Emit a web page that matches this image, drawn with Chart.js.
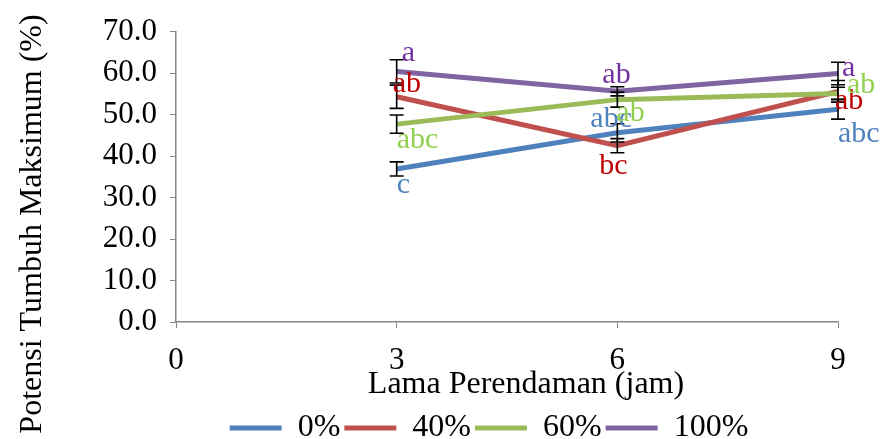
<!DOCTYPE html>
<html>
<head>
<meta charset="utf-8">
<script src="https://cdn.jsdelivr.net/npm/chart.js@4.4.1/dist/chart.umd.min.js"></script>
<style>
  body { margin: 0; background: #fff; }
  canvas { display: block; }
</style>
</head>
<body>
<canvas id="chart" width="881" height="439"></canvas>
<script>
// data
let hours = [3, 6, 9];
let seriesNames = ["0%", "40%", "60%", "100%"];

let val0 = [36.9, 45.6, 51.3];
let val40 = [54.3, 42.5, 55.6];
let val60 = [47.7, 53.6, 55.1];
let val100 = [60.4, 55.6, 59.9];

let err0 = [1.7, 2.2, 2.4];
let err40 = [2.8, 1.7, 2.6];
let err60 = [2.2, 1.8, 1.5];
let err100 = [2.8, 1.1, 2.7];

let notes0 = ["c", "abc", "abc"];
let notes40 = ["ab", "bc", "ab"];
let notes60 = ["abc", "ab", "ab"];
let notes100 = ["a", "ab", "a"];

let yTicks = [0, 10, 20, 30, 40, 50, 60, 70];

const FONT = "'Liberation Serif', 'Times New Roman', serif";
const lineColors = ["#4F81BD", "#C0504D", "#9BBB59", "#8064A2"];
const noteColors = ["#4F81BD", "#C00000", "#92D050", "#7030A0"];

let values = [val0, val40, val60, val100];
let errors = [err0, err40, err60, err100];
let notes = [notes0, notes40, notes60, notes100];

// where each letter sits relative to its point (text left, baseline)
const noteOffsets = [
  [[0, 24], [-27, -6], [0, 33]],
  [[-4, -5], [-18, 28], [-3, 18]],
  [[0, 24], [-1, 21], [9, 0]],
  [[5, -10], [-15, -8], [4, 2]]
];

let datasets = seriesNames.map((name, s) => ({
  label: name,
  data: hours.map((h, i) => ({ x: h, y: values[s][i] })),
  borderColor: lineColors[s],
  backgroundColor: lineColors[s],
  borderWidth: 5,
  pointRadius: 0,
  tension: 0,
  order: 4 - s
}));

// error bars, black caps
const errorBars = {
  id: "errorBars",
  afterDatasetsDraw(chart) {
    let ctx = chart.ctx;
    let xs = chart.scales.x, ys = chart.scales.y;
    ctx.save();
    ctx.strokeStyle = "#000";
    ctx.lineWidth = 1.6;
    values.forEach((vals, s) => {
      vals.forEach((v, i) => {
        let px = xs.getPixelForValue(hours[i]);
        let top = ys.getPixelForValue(v + errors[s][i]);
        let bot = ys.getPixelForValue(v - errors[s][i]);
        ctx.beginPath();
        ctx.moveTo(px, top); ctx.lineTo(px, bot);
        ctx.moveTo(px - 7, top); ctx.lineTo(px + 7, top);
        ctx.moveTo(px - 7, bot); ctx.lineTo(px + 7, bot);
        ctx.stroke();
      });
    });
    ctx.restore();
  }
};

// significance letters + axis titles
const textLayer = {
  id: "textLayer",
  afterDraw(chart) {
    let ctx = chart.ctx;
    let xs = chart.scales.x, ys = chart.scales.y;
    ctx.save();
    ctx.font = "30px " + FONT;
    ctx.textAlign = "left";
    ctx.textBaseline = "alphabetic";
    notes.forEach((list, s) => {
      ctx.fillStyle = noteColors[s];
      list.forEach((txt, i) => {
        let px = xs.getPixelForValue(hours[i]);
        let py = ys.getPixelForValue(values[s][i]);
        ctx.fillText(txt, px + noteOffsets[s][i][0], py + noteOffsets[s][i][1]);
      });
    });

    ctx.fillStyle = "#000";
    ctx.font = "32px " + FONT;
    ctx.textAlign = "center";
    ctx.fillText("Lama Perendaman (jam)", 526, 393);

    ctx.translate(41, 224);
    ctx.rotate(-Math.PI / 2);
    ctx.fillText("Potensi Tumbuh Maksimum (%)", 0, 0);
    ctx.restore();
  }
};

// legend sits right of canvas centre and near the bottom in the original
const moveLegend = {
  id: "moveLegend",
  afterLayout(chart) {
    let lg = chart.legend;
    lg.left += 70; lg.right += 70;
    lg.top += 15; lg.bottom += 15;
  }
};

new Chart(document.getElementById("chart"), {
  type: "line",
  data: { datasets },
  plugins: [errorBars, textLayer, moveLegend],
  options: {
    responsive: false,
    animation: false,
    layout: { padding: { top: 30, right: 43, left: 0, bottom: 0 } },
    plugins: {
      tooltip: { enabled: false },
      legend: {
        position: "bottom",
        labels: {
          font: { family: FONT, size: 32 },
          color: "#000",
          boxWidth: 52,
          boxHeight: 5,
          padding: 4,
          sort: (a, b) => a.datasetIndex - b.datasetIndex,
          generateLabels(chart) {
            let items = Chart.defaults.plugins.legend.labels.generateLabels(chart);
            items.forEach(it => { it.lineWidth = 0; it.fillStyle = lineColors[it.datasetIndex]; });
            return items;
          }
        }
      }
    },
    scales: {
      x: {
        type: "linear",
        min: 0,
        max: 9,
        ticks: {
          stepSize: 3,
          color: "#000",
          padding: 14,
          font: { family: FONT, size: 31 }
        },
        grid: { drawOnChartArea: false, color: "#868686", tickLength: 6 },
        border: { color: "#868686", width: 1.5 },
        afterFit(scale) {
          scale.height = 439 - 322 - scale.chart.legend.height;
        }
      },
      y: {
        min: 0,
        max: 70,
        afterBuildTicks(scale) {
          scale.ticks = yTicks.map(v => ({ value: v }));
        },
        ticks: {
          color: "#000",
          padding: 13,
          font: { family: FONT, size: 31 },
          callback: v => Number(v).toFixed(1)
        },
        grid: { drawOnChartArea: false, color: "#868686", tickLength: 6 },
        border: { color: "#868686", width: 1.5 },
        afterFit(scale) {
          scale.width = 176;
        }
      }
    }
  }
});
</script>
</body>
</html>
